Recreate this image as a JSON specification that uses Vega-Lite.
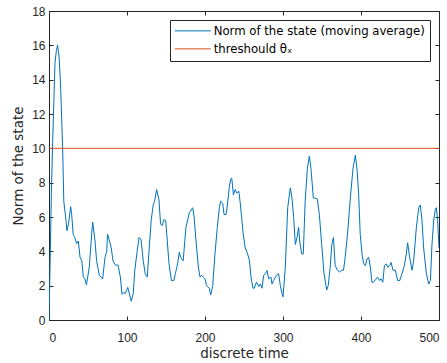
{
  "$schema": "https://vega.github.io/schema/vega-lite/v6.json",
  "width": 390,
  "height": 309,
  "autosize": "none",
  "padding": {"left": 49, "top": 11, "right": 8, "bottom": 43},
  "background": "white",
  "config": {
    "view": {"stroke": null},
    "font": "Liberation Sans",
    "axis": {
      "domainColor": "#262626",
      "tickColor": "#262626",
      "labelColor": "#262626",
      "titleColor": "#262626",
      "labelFont": "Liberation Sans",
      "titleFont": "DejaVu Sans",
      "labelFontSize": 12,
      "titleFontSize": 13.5,
      "titleFontWeight": "normal",
      "grid": false,
      "tickSize": -4,
      "domainWidth": 1,
      "tickWidth": 1
    },
    "legend": {
      "orient": "none",
      "legendX": 121,
      "legendY": 9,
      "padding": 5,
      "fillColor": "white",
      "strokeColor": "#262626",
      "symbolType": "M-4,0H4",
      "symbolSize": 81,
      "symbolStrokeWidth": 1,
      "symbolOffset": 12,
      "labelOffset": 15,
      "labelLimit": 0,
      "rowPadding": 5,
      "labelFont": "DejaVu Sans",
      "labelFontSize": 11.7,
      "labelColor": "black",
      "title": null
    }
  },
  "datasets": {
    "norm": [
      {"t":0,"v":0},{"t":1.5,"v":3.5},{"t":3,"v":7.3},{"t":4.7,"v":10.4},{"t":7.7,"v":15},{"t":9.5,"v":15.7},{"t":11,"v":16},{"t":13,"v":15.3},{"t":15,"v":13.5},{"t":17.5,"v":10},{"t":19,"v":6.9},{"t":21.8,"v":5.8},{"t":23,"v":5.2},{"t":25,"v":5.6},{"t":27.8,"v":6.6},{"t":29,"v":6.2},{"t":31,"v":5.0},{"t":33,"v":4.8},{"t":35.5,"v":4.45},{"t":37.6,"v":4.6},{"t":39.8,"v":3.65},{"t":42,"v":3.45},{"t":44,"v":2.5},{"t":46,"v":2.4},{"t":48,"v":2.05},{"t":51.7,"v":3.1},{"t":54.7,"v":5.0},{"t":56,"v":5.7},{"t":59,"v":4.6},{"t":61,"v":3.45},{"t":64.5,"v":2.6},{"t":66.7,"v":2.5},{"t":68.8,"v":2.4},{"t":71.8,"v":3.65},{"t":74,"v":4.0},{"t":75,"v":5.0},{"t":77.6,"v":4.6},{"t":79.8,"v":4.2},{"t":82,"v":3.45},{"t":85,"v":3.2},{"t":88.5,"v":3.2},{"t":91.5,"v":2.5},{"t":93.6,"v":1.5},{"t":95.7,"v":1.6},{"t":98,"v":1.55},{"t":101,"v":1.9},{"t":102.4,"v":1.65},{"t":105.4,"v":1.1},{"t":108,"v":1.55},{"t":110,"v":2.9},{"t":113,"v":4.0},{"t":115.4,"v":4.8},{"t":118,"v":4.7},{"t":120.8,"v":3.45},{"t":123.3,"v":2.7},{"t":126,"v":2.5},{"t":128,"v":3.85},{"t":131,"v":5.8},{"t":133.6,"v":6.7},{"t":135.3,"v":6.9},{"t":138,"v":7.6},{"t":141,"v":7.0},{"t":143,"v":5.6},{"t":145,"v":5.5},{"t":147.4,"v":5.85},{"t":149.5,"v":5.8},{"t":151.7,"v":4.6},{"t":153.8,"v":3.3},{"t":157,"v":2.3},{"t":160,"v":2.3},{"t":162,"v":2.7},{"t":165,"v":3.3},{"t":167,"v":3.95},{"t":168.8,"v":3.65},{"t":172,"v":3.45},{"t":175.6,"v":5.4},{"t":179.9,"v":6.25},{"t":181.6,"v":6.35},{"t":184.2,"v":6.54},{"t":185.9,"v":6.06},{"t":188.5,"v":4.6},{"t":191.5,"v":3.08},{"t":193.6,"v":2.5},{"t":195.7,"v":2.6},{"t":197.9,"v":2.5},{"t":200,"v":2.4},{"t":202,"v":2.0},{"t":205.5,"v":1.85},{"t":207.3,"v":1.46},{"t":209.8,"v":1.95},{"t":212.8,"v":3.85},{"t":215.8,"v":5.4},{"t":218.4,"v":6.54},{"t":220,"v":6.92},{"t":222.7,"v":6.8},{"t":224.4,"v":6.15},{"t":227,"v":6.15},{"t":228.7,"v":6.7},{"t":231.3,"v":7.8},{"t":233,"v":8.2},{"t":234.3,"v":8.27},{"t":236.4,"v":7.3},{"t":238.6,"v":7.6},{"t":240.7,"v":7.4},{"t":243.3,"v":7.5},{"t":245,"v":6.9},{"t":247,"v":5.96},{"t":249,"v":5.0},{"t":251.6,"v":4.2},{"t":254.6,"v":3.85},{"t":257,"v":3.45},{"t":259,"v":2.5},{"t":261.5,"v":1.85},{"t":263,"v":1.85},{"t":266,"v":2.2},{"t":269,"v":1.95},{"t":271,"v":2.1},{"t":273,"v":1.85},{"t":275.2,"v":2.6},{"t":277.4,"v":2.7},{"t":279.5,"v":2.88},{"t":281.6,"v":2.4},{"t":284.6,"v":2.5},{"t":285.9,"v":2.1},{"t":288,"v":2.3},{"t":291.5,"v":2.6},{"t":294.4,"v":2.7},{"t":296.6,"v":2.0},{"t":298.7,"v":1.55},{"t":300,"v":1.35},{"t":303,"v":3.08},{"t":306,"v":6.54},{"t":309.4,"v":7.7},{"t":311.5,"v":7.1},{"t":313.7,"v":5.96},{"t":315.8,"v":4.4},{"t":318,"v":4.8},{"t":320,"v":5.4},{"t":321.4,"v":4.6},{"t":324,"v":3.85},{"t":326,"v":3.85},{"t":328.4,"v":6.9},{"t":331.2,"v":8.8},{"t":333.8,"v":9.55},{"t":335.9,"v":8.8},{"t":338.9,"v":7.1},{"t":341,"v":7.1},{"t":344,"v":7.05},{"t":346.6,"v":6.15},{"t":349.6,"v":4.4},{"t":352.6,"v":2.7},{"t":356,"v":1.75},{"t":358,"v":2.0},{"t":360.5,"v":3.08},{"t":362.6,"v":4.4},{"t":364.7,"v":4.8},{"t":366.9,"v":3.17},{"t":369.9,"v":2.9},{"t":372.4,"v":2.8},{"t":375.4,"v":2.9},{"t":377.6,"v":2.9},{"t":379.7,"v":3.65},{"t":382.7,"v":5.0},{"t":386.3,"v":7.1},{"t":389.7,"v":8.8},{"t":392.7,"v":9.6},{"t":394.9,"v":8.8},{"t":397,"v":7.3},{"t":399,"v":5.0},{"t":401.3,"v":3.85},{"t":403.4,"v":3.27},{"t":405.6,"v":3.17},{"t":407.7,"v":3.55},{"t":409.8,"v":3.65},{"t":412,"v":3.08},{"t":414,"v":2.2},{"t":416,"v":2.2},{"t":419.6,"v":2.4},{"t":421,"v":2.5},{"t":424,"v":2.3},{"t":425.6,"v":2.4},{"t":428,"v":2.2},{"t":430,"v":3.17},{"t":432.5,"v":3.27},{"t":434.2,"v":3.08},{"t":436.8,"v":3.17},{"t":438.5,"v":3.36},{"t":441,"v":2.9},{"t":444,"v":2.9},{"t":447,"v":2.3},{"t":449.6,"v":2.3},{"t":452.6,"v":2.7},{"t":455.6,"v":3.17},{"t":458.1,"v":3.85},{"t":459.8,"v":4.5},{"t":462.4,"v":3.65},{"t":465.4,"v":2.9},{"t":467.5,"v":3.45},{"t":471,"v":5.4},{"t":474,"v":6.54},{"t":476,"v":6.7},{"t":478.2,"v":5.8},{"t":480.3,"v":4.2},{"t":483.8,"v":2.7},{"t":486.8,"v":2.1},{"t":489,"v":2.3},{"t":491,"v":4.4},{"t":493.2,"v":5.8},{"t":495.4,"v":6.45},{"t":496.6,"v":6.54},{"t":498.3,"v":5.8},{"t":500,"v":4.2}
    ],
    "thr": [{"t": 0, "v": 10}, {"t": 500, "v": 10}]
  },
  "layer": [
    {
      "data": {"name": "norm"},
      "mark": {"type": "line", "strokeWidth": 1, "clip": true},
      "encoding": {
        "x": {"field": "t", "type": "quantitative", "scale": {"domain": [0, 500], "nice": false, "zero": false},
              "axis": {"orient": "bottom", "title": "discrete time", "values": [0,100,200,300,400,500], "labelPadding": 16, "titlePadding": 3}},
        "y": {"field": "v", "type": "quantitative", "scale": {"domain": [0, 18], "nice": false},
              "axis": {"orient": "left", "title": "Norm of the state", "values": [0,2,4,6,8,10,12,14,16,18], "labelPadding": 8, "titlePadding": 6}},
        "color": {"datum": "Norm of the state (moving average)", "type": "nominal",
                  "scale": {"domain": ["Norm of the state (moving average)", "threshould θₓ"], "range": ["#0072BD", "#D95319"]}}
      }
    },
    {
      "data": {"name": "thr"},
      "mark": {"type": "line", "strokeWidth": 1},
      "encoding": {
        "x": {"field": "t", "type": "quantitative", "axis": null},
        "y": {"field": "v", "type": "quantitative", "axis": null},
        "color": {"datum": "threshould θₓ", "type": "nominal"}
      }
    },
    {
      "data": {"name": "thr"},
      "mark": {"type": "point", "opacity": 0},
      "encoding": {
        "x": {"field": "t", "type": "quantitative", "axis": {"orient": "top", "title": null, "labels": false, "values": [0,100,200,300,400,500]}},
        "y": {"field": "v", "type": "quantitative", "axis": {"orient": "right", "title": null, "labels": false, "values": [0,2,4,6,8,10,12,14,16,18]}}
      }
    }
  ],
  "resolve": {"axis": {"x": "independent", "y": "independent"}}
}
